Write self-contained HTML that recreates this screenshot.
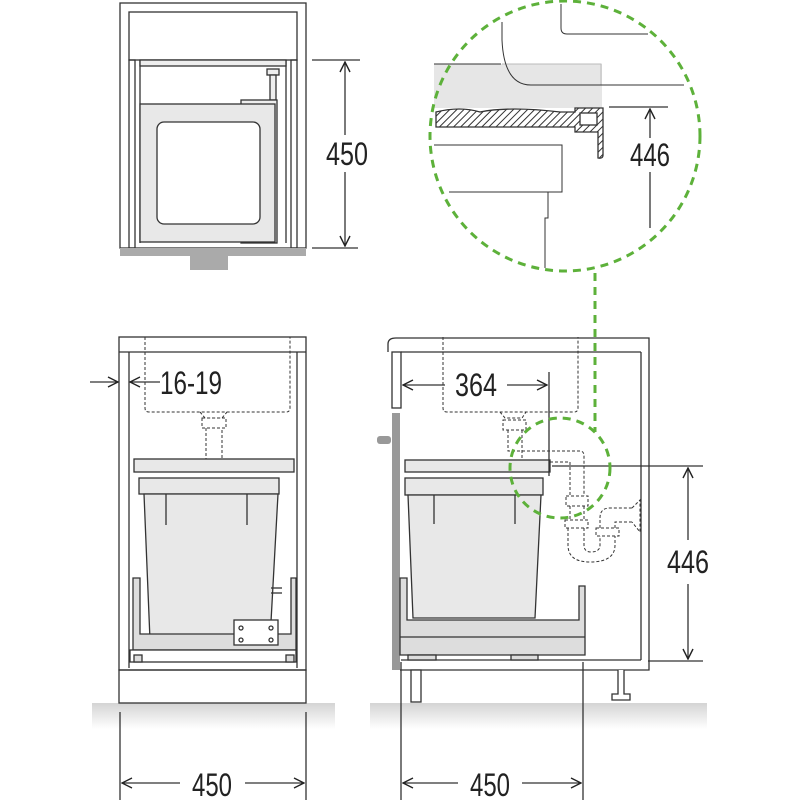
<!DOCTYPE html>
<html><head><meta charset="utf-8"><style>
html,body{margin:0;padding:0;background:#fff}
svg{display:block}
text{font-family:"Liberation Sans Narrow","Liberation Sans",sans-serif;fill:#222}
</style></head><body>
<svg width="800" height="800" viewBox="0 0 800 800" xmlns="http://www.w3.org/2000/svg">
<defs>
<linearGradient id="fl" x1="0" y1="0" x2="0" y2="1">
<stop offset="0" stop-color="#d4d4d4"/><stop offset="1" stop-color="#ffffff"/></linearGradient>
<pattern id="hatch" width="5" height="5" patternUnits="userSpaceOnUse" patternTransform="rotate(45)">
<rect width="5" height="5" fill="#fff"/><line x1="0" y1="0" x2="0" y2="5" stroke="#333" stroke-width="2"/></pattern>
<marker id="ah" viewBox="0 0 12 12" refX="11" refY="6" markerWidth="12" markerHeight="12" orient="auto" markerUnits="userSpaceOnUse">
<path d="M1,1 L11,6 L1,11" fill="none" stroke="#222" stroke-width="1.4"/></marker>
</defs>
<g fill="none" stroke="#333" stroke-width="1.3">
<!-- TOP VIEW -->
<rect x="120" y="3" width="186" height="245"/>
<rect x="129" y="12" width="168" height="48" fill="#fff"/>
<rect x="129" y="60" width="6" height="188"/>
<rect x="291" y="60" width="6" height="188"/>
<line x1="140" y1="60" x2="140" y2="243"/><line x1="286" y1="60" x2="286" y2="243"/>
<rect x="140" y="60" width="146" height="6" fill="#eee"/>
<rect x="267" y="69" width="12" height="6" fill="#eee"/>
<rect x="270" y="75" width="6" height="25" fill="#eee"/>
<rect x="241" y="100" width="36" height="143" fill="#eee"/>
<rect x="140" y="104" width="135" height="138" fill="#e8e8e8"/>
<rect x="157" y="122" width="103" height="102" rx="7" fill="#fff"/>
<rect x="120" y="248" width="186" height="8" fill="#aaa" stroke="none"/>
<rect x="190" y="256" width="38" height="14" fill="#aaa" stroke="none"/>
<line x1="312" y1="60" x2="360" y2="60"/><line x1="312" y1="248" x2="358" y2="248"/>
<line x1="345" y1="135" x2="345" y2="62" marker-end="url(#ah)"/>
<line x1="345" y1="172" x2="345" y2="246" marker-end="url(#ah)"/>

<!-- FLOORS -->
<rect x="92" y="703" width="243" height="26" fill="url(#fl)" stroke="none"/>
<rect x="370" y="703" width="337" height="26" fill="url(#fl)" stroke="none"/>

<!-- LEFT FRONT VIEW -->
<rect x="119" y="337" width="187" height="333"/>
<line x1="119" y1="352" x2="306" y2="352"/>
<line x1="129" y1="352" x2="129" y2="668"/><line x1="297" y1="352" x2="297" y2="668"/>
<rect x="119" y="670" width="187" height="33"/>
<path d="M145,337 V408 Q145,412 149,412 H286 Q290,412 290,408 V337" stroke-dasharray="3,2" stroke-width="1"/>
<path d="M200,412 L205,418 H222 L227,412 M202,418 H226 V428 H202 Z M206,428 V460 H222 V428" stroke-dasharray="3,2" stroke-width="1"/>
<rect x="134" y="459" width="160" height="13" fill="#e8e8e8"/>
<rect x="139" y="478" width="140" height="16" fill="#e8e8e8"/>
<path d="M144,494 L278,494 L270,640 L150,640 Z" fill="#e8e8e8"/>
<line x1="166" y1="494" x2="166" y2="525"/><line x1="247" y1="494" x2="247" y2="525"/>
<path d="M133,578 H140 V634 H291 V578 H296 V650 H133 Z" fill="#ddd"/>
<rect x="130" y="650" width="166" height="12" fill="#fff"/>
<rect x="134" y="655" width="8" height="7" fill="#ddd"/><rect x="286" y="655" width="8" height="7" fill="#ddd"/>
<rect x="234" y="620" width="44" height="25" fill="#fff"/>
<circle cx="241" cy="628" r="2"/><circle cx="271" cy="628" r="2"/><circle cx="241" cy="640" r="2"/><circle cx="271" cy="640" r="2"/>
<line x1="271" y1="588" x2="282" y2="588"/><line x1="271" y1="593" x2="282" y2="593"/>
<line x1="90" y1="382" x2="118" y2="382" marker-end="url(#ah)"/>
<line x1="160" y1="382" x2="130" y2="382" marker-end="url(#ah)"/>
<line x1="120" y1="712" x2="120" y2="800"/><line x1="306" y1="712" x2="306" y2="800"/>
<line x1="180" y1="783" x2="122" y2="783" marker-end="url(#ah)"/>
<line x1="245" y1="783" x2="304" y2="783" marker-end="url(#ah)"/>

<!-- RIGHT SIDE VIEW -->
<path d="M388,352 V344 Q388,338 396,338 H649 V670 H400"/>
<line x1="401" y1="352" x2="641" y2="352"/>
<line x1="641" y1="352" x2="641" y2="660"/>
<line x1="401" y1="660" x2="641" y2="660"/>
<rect x="392" y="352" width="9" height="56" fill="#fff"/>
<rect x="392" y="413" width="8" height="257" fill="#999" stroke="none"/>
<rect x="377" y="436" width="14" height="8" rx="3" fill="#999" stroke="none"/>
<path d="M443,337 V408 Q443,412 447,412 H574 Q578,412 578,408 V337" stroke-dasharray="3,2" stroke-width="1"/>
<path d="M500,412 L505,418 H522 L526,412 M503,420 H526 V430 H503 Z M508,430 V451 H580 Q584,451 584,456 V496 M522,430 V462 H570 V496 M566,496 H588 V506 H566 Z M570,506 V520 M584,506 V520 M565,520 H588 V528 H565 Z M568,528 V545 Q568,562 590,562 Q615,562 615,545 V536 M584,528 V545 Q584,552 591,552 Q600,552 600,545 V536 M596,528 H619 V536 H596 Z M600,528 V518 Q600,508 610,508 H632 M615,528 V522 H632 M632,508 L640,500 V532 L632,522" stroke-dasharray="3,2" stroke-width="1"/>
<rect x="405" y="460" width="145" height="12" fill="#e8e8e8"/>
<rect x="405" y="478" width="138" height="17" fill="#e8e8e8"/>
<path d="M408,495 L541,495 L535,618 L413,618 Z" fill="#e8e8e8"/>
<line x1="434" y1="495" x2="434" y2="524"/><line x1="515" y1="495" x2="515" y2="524"/>
<path d="M400,578 H407 V620 H579 V586 H585 V655 H400 Z" fill="#ddd"/>
<line x1="400" y1="637" x2="585" y2="637"/>
<rect x="408" y="655" width="28" height="5" fill="#ddd"/><rect x="511" y="655" width="27" height="5" fill="#ddd"/>
<rect x="411" y="670" width="10" height="32" fill="#fff"/>
<path d="M618,670 V694 H612 V700 H630 V694 H624 V670" fill="#fff"/>
<line x1="549" y1="372" x2="549" y2="476"/>
<line x1="445" y1="385" x2="403" y2="385" marker-end="url(#ah)"/>
<line x1="507" y1="385" x2="547" y2="385" marker-end="url(#ah)"/>
<line x1="552" y1="466" x2="703" y2="466"/><line x1="648" y1="661" x2="703" y2="661"/>
<line x1="688" y1="540" x2="688" y2="468" marker-end="url(#ah)"/>
<line x1="688" y1="584" x2="688" y2="659" marker-end="url(#ah)"/>
<line x1="401" y1="662" x2="401" y2="800"/><line x1="583" y1="662" x2="583" y2="800"/>
<line x1="458" y1="783" x2="403" y2="783" marker-end="url(#ah)"/>
<line x1="522" y1="783" x2="581" y2="783" marker-end="url(#ah)"/>

<!-- DETAIL CIRCLE -->
<rect x="434" y="64" width="168" height="44" fill="#e6e6e6" stroke="none"/>
<path d="M434,64 H501" stroke-width="1"/>
<path d="M502,64 H601 V85" stroke="#bbb" stroke-width="1"/>
<path d="M502,22 V40 Q504,85 531,85 H684" stroke-width="1"/>
<path d="M561,4 V28 Q561,34 567,34 H648" stroke-width="1"/>
<path d="M436,112 Q460,106 480,112 Q510,106 560,112 H575 V108 H603 V155 Q603,159 598,158 V132 H575 V127 H436 Z" fill="url(#hatch)"/>
<rect x="580" y="113" width="17" height="12" fill="#fff"/>
<path d="M434,145 H562 V192 H548 V218 H545 V268" stroke-width="1"/>
<line x1="449" y1="192" x2="562" y2="192" stroke-width="1"/>
<line x1="609" y1="107" x2="668" y2="107"/>
<line x1="650" y1="138" x2="650" y2="109" marker-end="url(#ah)"/>
<line x1="650" y1="172" x2="650" y2="228"/>
</g>
<g fill="none" stroke="#5db13a" stroke-width="3" stroke-dasharray="8,6">
<circle cx="565" cy="136" r="135"/>
<line x1="595" y1="273" x2="595" y2="432"/>
<circle cx="560" cy="468" r="50"/>
</g>
<g font-size="32" text-anchor="middle" dominant-baseline="central" lengthAdjust="spacingAndGlyphs">
<text x="347" y="154" textLength="42" lengthAdjust="spacingAndGlyphs">450</text>
<text x="191" y="383" textLength="62" lengthAdjust="spacingAndGlyphs">16-19</text>
<text x="476" y="385" textLength="42" lengthAdjust="spacingAndGlyphs">364</text>
<text x="688" y="562" textLength="42" lengthAdjust="spacingAndGlyphs">446</text>
<text x="650" y="155" textLength="40" lengthAdjust="spacingAndGlyphs">446</text>
<text x="212" y="785" textLength="40" lengthAdjust="spacingAndGlyphs">450</text>
<text x="490" y="785" textLength="40" lengthAdjust="spacingAndGlyphs">450</text>
</g>
</svg>
</body></html>
